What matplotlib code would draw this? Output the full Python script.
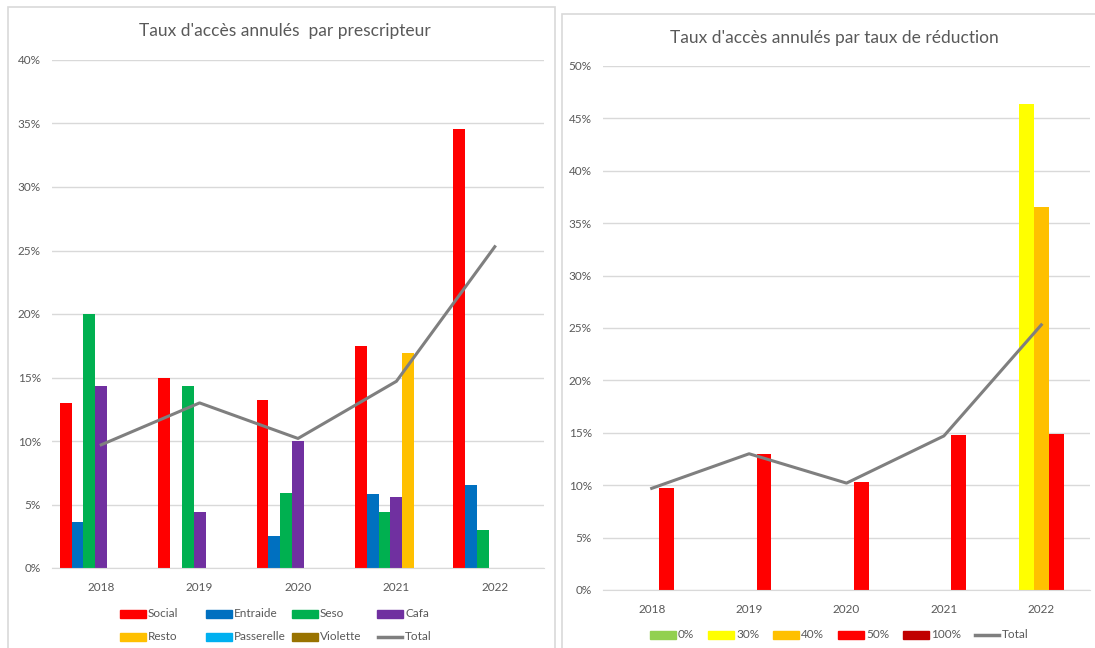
import matplotlib
matplotlib.use("Agg")
import matplotlib.pyplot as plt
import numpy as np
from matplotlib.patches import Rectangle
from matplotlib.lines import Line2D
from matplotlib.ticker import PercentFormatter

plt.rcParams["font.family"] = ["Lato", "DejaVu Sans"]

years = ["2018", "2019", "2020", "2021", "2022"]

# left chart: rate by prescriber (%)
prescripteurs = ["Social", "Entraide", "Seso", "Cafa", "Resto", "Passerelle", "Violette"]
social = [13.0, 15.0, 13.2, 17.5, 34.6]
entraide = [3.6, 0, 2.5, 5.8, 6.5]
seso = [20.0, 14.3, 5.9, 4.4, 3.0]
cafa = [14.3, 4.4, 10.0, 5.6, 0]
resto = [0, 0, 0, 16.9, 0]
passerelle = [0, 0, 0, 0, 0]
violette = [0, 0, 0, 0, 0]
total = [9.7, 13.0, 10.2, 14.7, 25.3]

# right chart: rate by reduction level (%)
reductions = ["0%", "30%", "40%", "50%", "100%"]
red_0 = [0, 0, 0, 0, 0]
red_30 = [0, 0, 0, 0, 46.4]
red_40 = [0, 0, 0, 0, 36.5]
red_50 = [9.7, 13.0, 10.3, 14.8, 14.9]
red_100 = [0, 0, 0, 0, 0]

left_colors = ["#ff0000", "#0070c0", "#00b050", "#7030a0", "#ffc000", "#00b0f0", "#997300"]
right_colors = ["#92d050", "#ffff00", "#ffc000", "#ff0000", "#c00000"]
total_color = "#7f7f7f"
text_color = "#595959"
grid_color = "#d9d9d9"

W, H = 1095, 648
fig = plt.figure(figsize=(W / 100, H / 100), dpi=100)


def fx(px):
    return px / W


def fy(py):
    return 1 - py / H


# chart panels
for x0, y0, x1 in [(8, 7, 555), (562, 14, 1100)]:
    fig.patches.append(
        Rectangle((fx(x0), fy(660)), fx(x1 - x0), (660 - y0) / H,
                  transform=fig.transFigure, facecolor="white",
                  edgecolor=grid_color, linewidth=1.2, zorder=-5)
    )


def style_axis(ax, ymax):
    ax.set_ylim(0, ymax)
    ax.set_xlim(-0.5, len(years) - 0.5)
    ax.yaxis.set_major_formatter(PercentFormatter(decimals=0))
    ax.set_yticks(np.arange(0, ymax + 0.1, 5))
    ax.grid(axis="y", color=grid_color, linewidth=1)
    ax.set_axisbelow(True)
    for side in ["top", "right", "left"]:
        ax.spines[side].set_visible(False)
    ax.spines["bottom"].set_color(grid_color)
    ax.tick_params(axis="both", length=0, labelsize=8.5, colors=text_color)
    ax.tick_params(axis="x", pad=10)
    ax.tick_params(axis="y", pad=8)
    ax.set_xticks(range(len(years)))
    ax.set_xticklabels(years)
    ax.patch.set_alpha(0)


def legend_entry(xpx, ypx, color, label, line=False):
    if line:
        fig.lines.append(Line2D([fx(xpx + 1), fx(xpx + 25)], [fy(ypx), fy(ypx)],
                                transform=fig.transFigure, color=color, lw=2.5))
    else:
        fig.patches.append(Rectangle((fx(xpx), fy(ypx + 4)), fx(26), 8 / H,
                                     transform=fig.transFigure, color=color))
    fig.text(fx(xpx + 28), fy(ypx), label, ha="left", va="center",
             fontsize=8.5, color=text_color)


x = np.arange(len(years))

# left chart
ax1 = fig.add_axes([fx(52), fy(568), fx(492), (568 - 60) / H])
left_series = [social, entraide, seso, cafa, resto, passerelle, violette]
bw = 0.12
n = len(left_series)
for i, (vals, col) in enumerate(zip(left_series, left_colors)):
    ax1.bar(x + (i - (n - 1) / 2) * bw, vals, width=bw, color=col, linewidth=0)
ax1.plot(x, total, color=total_color, linewidth=2.2)
style_axis(ax1, 40)
fig.text(fx(285), fy(31), "Taux d'accès annulés  par prescripteur",
         ha="center", va="center", fontsize=12.5, color=text_color)

left_cols = [120, 206, 292, 377]
left_rows = [613.5, 636.5]
for k, (label, col) in enumerate(zip(prescripteurs, left_colors)):
    legend_entry(left_cols[k % 4], left_rows[k // 4], col, label)
legend_entry(left_cols[3], left_rows[1], total_color, "Total", line=True)

# right chart
ax2 = fig.add_axes([fx(603), fy(590), fx(487), (590 - 66) / H])
right_series = [red_0, red_30, red_40, red_50, red_100]
bw2 = 0.153
m = len(right_series)
for i, (vals, col) in enumerate(zip(right_series, right_colors)):
    ax2.bar(x + (i - (m - 1) / 2) * bw2, vals, width=bw2, color=col, linewidth=0)
ax2.plot(x, total, color=total_color, linewidth=2.2)
style_axis(ax2, 50)
fig.text(fx(834), fy(38), "Taux d'accès annulés par taux de réduction",
         ha="center", va="center", fontsize=12.5, color=text_color)

right_cols = [650, 708, 773, 838, 903, 974]
for k, (label, col) in enumerate(zip(reductions, right_colors)):
    legend_entry(right_cols[k], 635, col, label)
legend_entry(right_cols[5], 635, total_color, "Total", line=True)

fig.savefig("out.png", dpi=100, facecolor="white")
